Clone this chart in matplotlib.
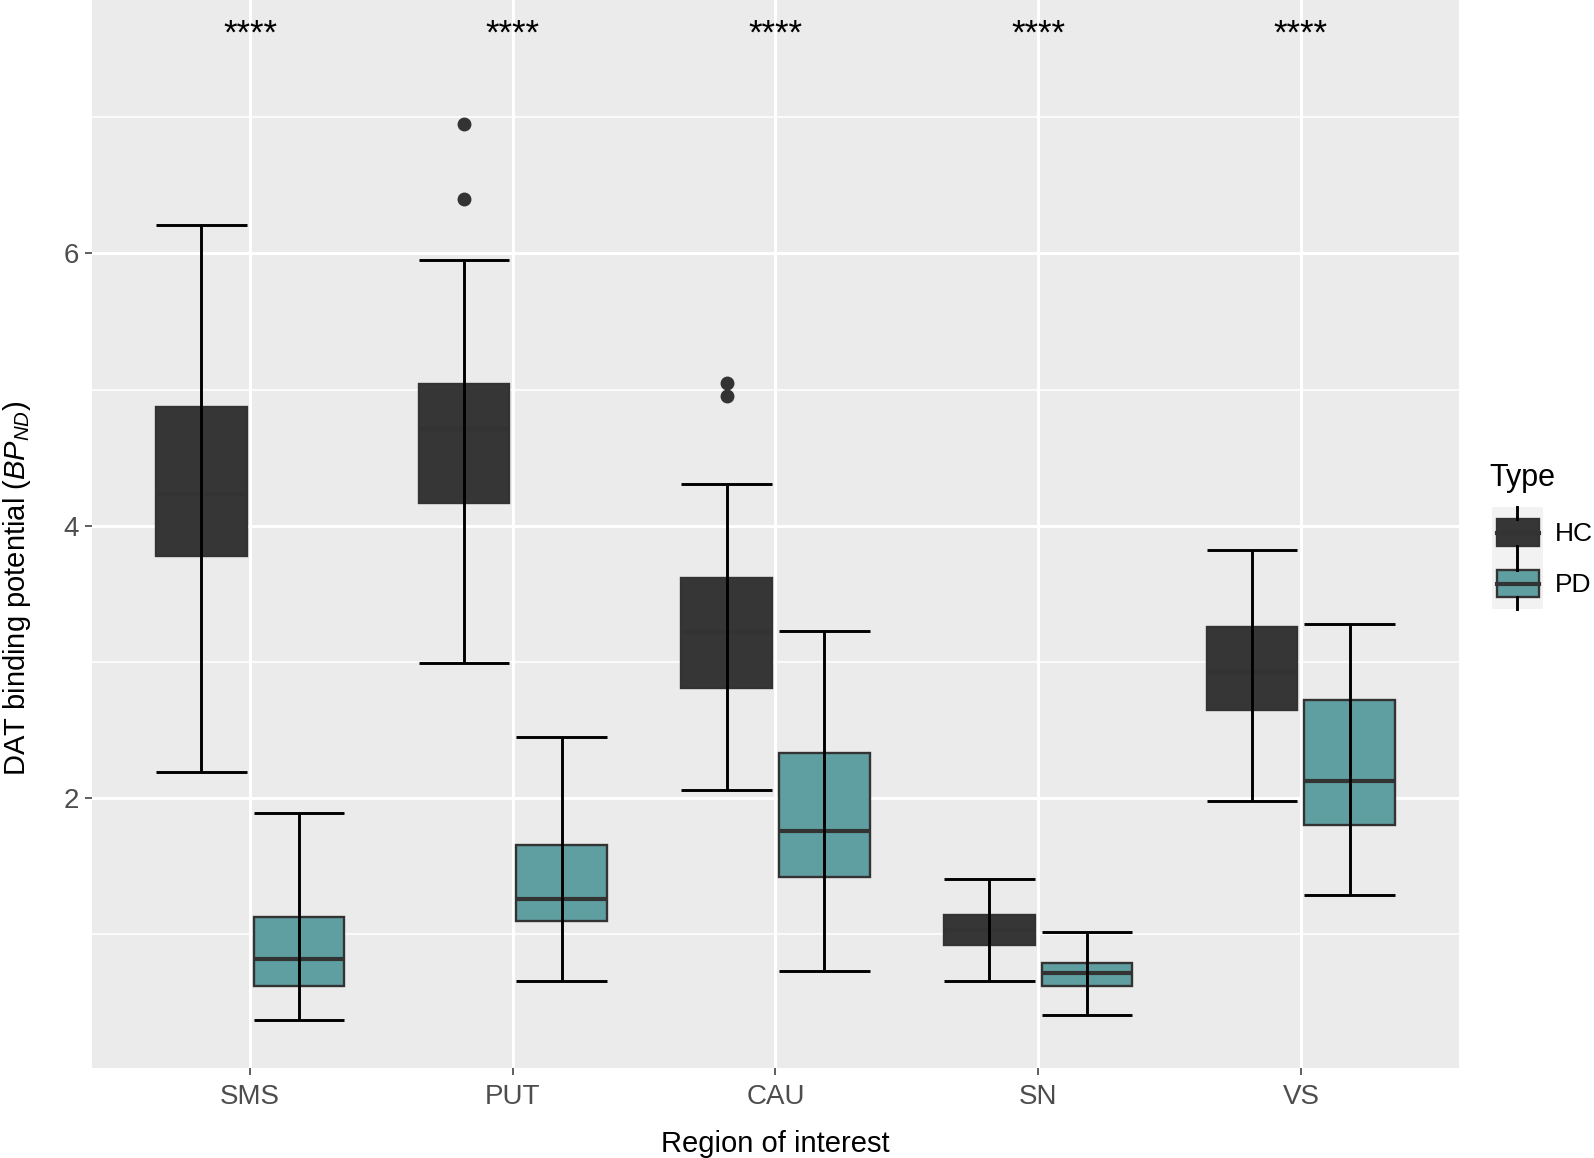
import matplotlib
matplotlib.use("Agg")
import matplotlib.pyplot as plt
from matplotlib.patches import Rectangle, Patch
from matplotlib.lines import Line2D
from matplotlib.legend_handler import HandlerBase

plt.rcParams["font.family"] = ["Liberation Sans", "DejaVu Sans"]
plt.rcParams["mathtext.fontset"] = "custom"
plt.rcParams["mathtext.rm"] = "Liberation Sans"
plt.rcParams["mathtext.it"] = "Liberation Sans:italic"

# ---------------- data ----------------
regions = ["SMS", "PUT", "CAU", "SN", "VS"]
groups = ["HC", "PD"]

hc_whislo = [2.19, 2.99, 2.06, 0.66, 1.98]
hc_q1 = [3.78, 4.17, 2.81, 0.92, 2.65]
hc_med = [4.23, 4.71, 3.22, 1.03, 2.93]
hc_q3 = [4.87, 5.04, 3.62, 1.14, 3.26]
hc_whishi = [6.21, 5.95, 4.31, 1.41, 3.82]
hc_fliers = [[], [6.95, 6.40], [5.05, 4.95], [], []]

pd_whislo = [0.37, 0.66, 0.73, 0.41, 1.29]
pd_q1 = [0.62, 1.10, 1.42, 0.62, 1.80]
pd_med = [0.82, 1.26, 1.76, 0.72, 2.13]
pd_q3 = [1.13, 1.66, 2.33, 0.79, 2.72]
pd_whishi = [1.89, 2.45, 3.23, 1.02, 3.28]
pd_fliers = [[], [], [], [], []]

signif = ["****", "****", "****", "****", "****"]

# ---------------- style ----------------
colors = {"HC": "#363636", "PD": "#5F9FA1"}
edge = "#333333"
panel_bg = "#EBEBEB"
offsets = {"HC": -0.186, "PD": 0.186}
box_w = 0.345

fig = plt.figure(figsize=(15.94, 11.58), dpi=100)
ax = fig.add_axes([0.058, 0.078, 0.857, 0.922])
ax.set_facecolor(panel_bg)
for s in ax.spines.values():
    s.set_visible(False)

series = {
    "HC": (hc_whislo, hc_q1, hc_med, hc_q3, hc_whishi, hc_fliers),
    "PD": (pd_whislo, pd_q1, pd_med, pd_q3, pd_whishi, pd_fliers),
}

for g in groups:
    lo, q1, med, q3, hi, fl = series[g]
    stats = []
    for i in range(len(regions)):
        stats.append(dict(med=med[i], q1=q1[i], q3=q3[i], whislo=lo[i],
                          whishi=hi[i], fliers=fl[i], label=regions[i]))
    pos = [i + offsets[g] for i in range(len(regions))]
    ax.bxp(stats, positions=pos, widths=box_w, patch_artist=True,
           showcaps=False, manage_ticks=False,
           boxprops=dict(facecolor=colors[g], edgecolor=edge, linewidth=1.7),
           medianprops=dict(color=edge, linewidth=3.0),
           whiskerprops=dict(visible=False),
           flierprops=dict(marker="o", markerfacecolor=edge, markeredgecolor=edge,
                           markersize=9),
           zorder=3)
    # errorbar-style whiskers drawn over the boxes
    ax.vlines(pos, lo, hi, color="black", linewidth=2.1, zorder=5)
    ax.hlines(lo, [p - box_w / 2 for p in pos], [p + box_w / 2 for p in pos],
              color="black", linewidth=2.1, zorder=5)
    ax.hlines(hi, [p - box_w / 2 for p in pos], [p + box_w / 2 for p in pos],
              color="black", linewidth=2.1, zorder=5)

sig_y = 7.54
for i, s in enumerate(signif):
    ax.text(i, sig_y, s, ha="center", va="baseline", fontsize=25, color="black", zorder=6)

ax.set_xlim(-0.6, len(regions) - 0.4)
ax.set_ylim(0.022, 7.86)
ax.set_xticks(range(len(regions)))
ax.set_xticklabels(regions)
ax.set_yticks([2, 4, 6])
ax.set_yticks([1, 3, 5, 7], minor=True)
ax.grid(True, which="major", color="white", linewidth=2.2, zorder=0)
ax.grid(True, which="minor", axis="y", color="white", linewidth=1.1, zorder=0)
ax.set_axisbelow(True)
ax.tick_params(axis="both", which="major", length=5, width=1.1, color=edge,
               labelcolor="#4D4D4D", labelsize=20, pad=5)
ax.tick_params(axis="x", which="major", pad=7)
ax.tick_params(axis="y", which="minor", length=0)

ax.set_xlabel("Region of interest", fontsize=21, color="black")
ax.xaxis.set_label_coords(0.5, -0.0585)
ax.set_ylabel(r"DAT binding potential ($\mathit{BP}_{\mathit{ND}}$)", fontsize=21, color="black")
ax.yaxis.set_label_coords(-0.0435, 0.449)


class BoxHandler(HandlerBase):
    def create_artists(self, legend, orig_handle, xdescent, ydescent, width, height,
                       fontsize, trans):
        fc = orig_handle.get_facecolor()
        x0, y0 = -xdescent, -ydescent
        bg = Rectangle((x0, y0), width, height, facecolor="#F2F2F2", edgecolor="none",
                       transform=trans)
        bx = x0 + width * 0.1
        bw = width * 0.82
        by = y0 + height * 0.24
        bh = height * 0.52
        box = Rectangle((bx, by), bw, bh, facecolor=fc, edgecolor=edge, linewidth=1.7,
                        transform=trans)
        cx = x0 + width / 2
        w1 = Line2D([cx, cx], [y0, by], color="black", linewidth=2.1, transform=trans)
        w2 = Line2D([cx, cx], [by + bh, y0 + height], color="black", linewidth=2.1,
                    transform=trans)
        m = Line2D([bx, bx + bw], [by + bh / 2, by + bh / 2], color=edge, linewidth=3.0,
                   transform=trans)
        return [bg, box, w1, w2, m]


fig.text(1489 / 1594, 1 - 478 / 1158, "Type", ha="left", va="center", fontsize=22)
handles = [Patch(facecolor=colors[g]) for g in groups]
leg = fig.legend(handles, groups, handler_map={Patch: BoxHandler()},
                 loc="upper left", bbox_to_anchor=(1492 / 1594, 1 - 507 / 1158),
                 frameon=False, fontsize=19,
                 handlelength=1.93, handleheight=2.6, labelspacing=0.0,
                 handletextpad=0.45, borderpad=0, borderaxespad=0)

fig.savefig("out.png", dpi=100, facecolor="white")
